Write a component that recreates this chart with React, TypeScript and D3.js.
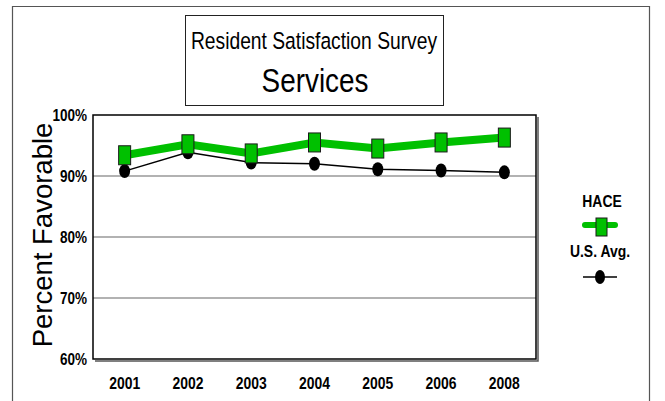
import React from "react";
import * as d3 from "d3";

const years = ["2001", "2002", "2003", "2004", "2005", "2006", "2008"];
const haceValues = [93.4, 95.2, 93.7, 95.5, 94.5, 95.5, 96.3];
const usValues = [90.8, 93.9, 92.2, 92.0, 91.1, 90.9, 90.6];
const yTicks = [60, 70, 80, 90, 100];
const titleLine1 = "Resident Satisfaction Survey";
const titleLine2 = "Services";
const yAxisTitle = "Percent Favorable";
const legendLabels = ["HACE", "U.S. Avg."];

const W = 665;
const H = 401;
const plot = { left: 93, right: 536, top: 115, bottom: 359 };
const GREEN = "#00c000";
const SANS = "'Liberation Sans', Arial, sans-serif";
const SX = 0.82;

function NText(props: {
  x: number;
  y: number;
  size: number;
  bold?: boolean;
  anchor?: "start" | "middle" | "end";
  children: React.ReactNode;
}) {
  return (
    <text
      transform={`translate(${props.x},${props.y}) scale(${SX},1)`}
      textAnchor={props.anchor || "middle"}
      fontFamily={SANS}
      fontWeight={props.bold ? "bold" : "normal"}
      fontSize={props.size}
      fill="#000"
    >
      {props.children}
    </text>
  );
}

export default function App() {
  const x = d3.scaleBand<string>().domain(years).range([plot.left, plot.right]);
  const cx = (d: string) => (x(d) as number) + x.bandwidth() / 2;
  const y = d3.scaleLinear().domain([60, 100]).range([plot.bottom, plot.top]);

  const line = d3
    .line<number>()
    .x((_, i) => cx(years[i]))
    .y((v) => y(v));

  return (
    <svg
      width={W}
      height={H}
      style={{ position: "absolute", left: 0, top: 0, background: "#fff" }}
    >
      {/* outer border */}
      <path d={`M12.5,${H} L12.5,6.5 L649.5,6.5 L649.5,${H}`} fill="none" stroke="#555" strokeWidth={1.2} />

      {/* title box */}
      <rect x={185.5} y={15.5} width={258} height={90} fill="#fff" stroke="#222" strokeWidth={1} />
      <NText x={314} y={49} size={23.5}>{titleLine1}</NText>
      <NText x={315} y={92} size={34}>{titleLine2}</NText>

      {/* gridlines */}
      {yTicks
        .filter((t) => t !== 60 && t !== 100)
        .map((t) => (
          <line key={t} x1={plot.left} x2={plot.right} y1={y(t)} y2={y(t)} stroke="#666" strokeWidth={1.2} />
        ))}

      {/* plot frame with shadow */}
      <path
        d={`M${plot.left + 2},${plot.bottom + 2} L${plot.right + 2},${plot.bottom + 2} L${plot.right + 2},${plot.top + 2}`}
        fill="none"
        stroke="#555"
        strokeWidth={1.5}
      />
      <rect
        x={plot.left}
        y={plot.top}
        width={plot.right - plot.left}
        height={plot.bottom - plot.top}
        fill="none"
        stroke="#000"
        strokeWidth={1.5}
      />

      {/* y tick labels */}
      {yTicks.map((t) => (
        <NText key={t} x={87} y={y(t) + 6} size={16.5} bold anchor="end">
          {t}%
        </NText>
      ))}

      {/* y axis title */}
      <text
        transform={`translate(52,235) rotate(-90)`}
        textAnchor="middle"
        fontFamily={SANS}
        fontSize={27.5}
        fill="#000"
      >
        {yAxisTitle}
      </text>

      {/* x labels */}
      {years.map((yr) => (
        <NText key={yr} x={cx(yr)} y={389} size={17} bold>
          {yr}
        </NText>
      ))}

      {/* US line */}
      <path d={line(usValues) || ""} fill="none" stroke="#000" strokeWidth={1.5} />
      {/* HACE line */}
      <path d={line(haceValues) || ""} fill="none" stroke={GREEN} strokeWidth={8} />

      {/* US markers */}
      {usValues.map((v, i) => (
        <ellipse key={i} cx={cx(years[i])} cy={y(v)} rx={5.5} ry={7} fill="#000" />
      ))}
      {/* HACE markers */}
      {haceValues.map((v, i) => (
        <rect
          key={i}
          x={cx(years[i]) - 6}
          y={y(v) - 9.5}
          width={12}
          height={19}
          fill={GREEN}
          stroke="#1a1a1a"
          strokeWidth={1}
        />
      ))}

      {/* legend */}
      <NText x={602} y={207} size={17} bold>{legendLabels[0]}</NText>
      <line x1={585} x2={615} y1={225} y2={225} stroke={GREEN} strokeWidth={6} strokeLinecap="round" />
      <rect x={596} y={218} width={11} height={18} fill={GREEN} stroke="#1a1a1a" strokeWidth={1} />
      <NText x={600} y={257} size={17} bold>{legendLabels[1]}</NText>
      <line x1={583} x2={617} y1={277} y2={277} stroke="#000" strokeWidth={1.5} />
      <ellipse cx={600} cy={277} rx={5} ry={7} fill="#000" />
    </svg>
  );
}
